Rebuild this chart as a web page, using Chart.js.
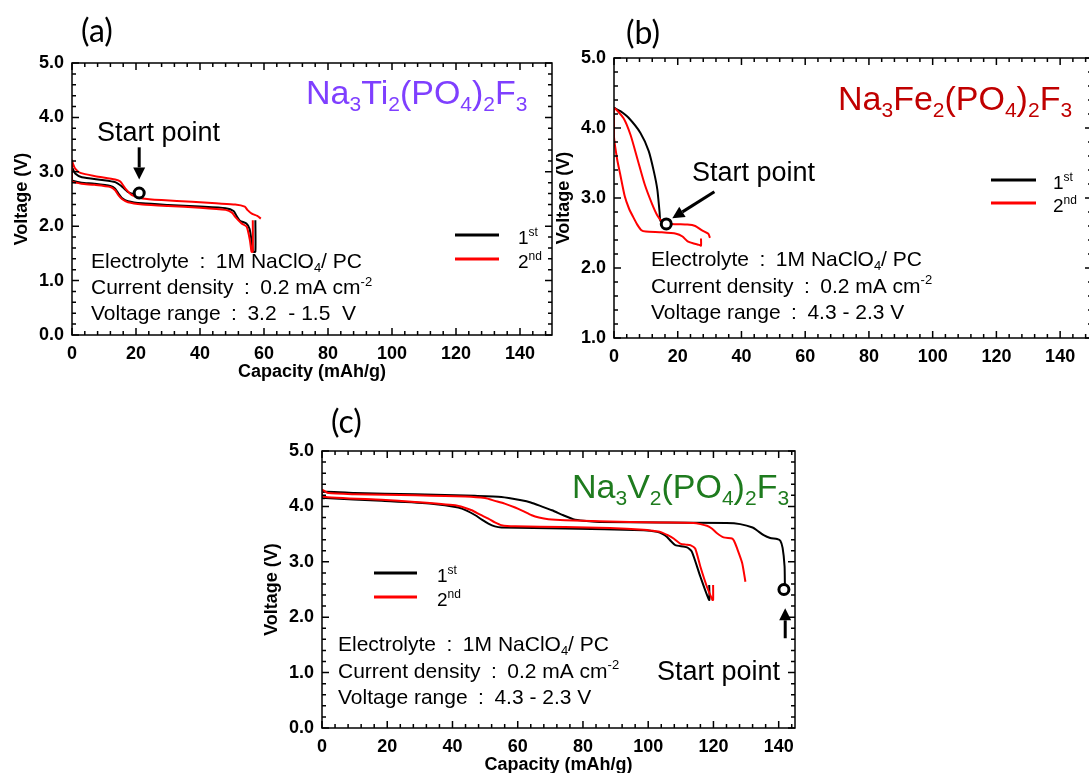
<!DOCTYPE html>
<html>
<head>
<meta charset="utf-8">
<title>Courbes de charge / décharge</title>
<script src="https://cdn.jsdelivr.net/npm/chart.js@4.4.1/dist/chart.umd.min.js"></script>
<style>
  html, body { margin: 0; padding: 0; background: #fff; overflow: hidden; }
  #page { position: relative; width: 1089px; height: 773px; overflow: hidden; background: #fff; }
  #page canvas { position: absolute; left: 0; top: 0; }
</style>
</head>
<body>
<div id="page">
  <canvas id="chartTi" width="1100" height="790"></canvas>
  <canvas id="chartFe" width="1100" height="790"></canvas>
  <canvas id="chartV" width="1100" height="790"></canvas>
</div>
<script>
/*
  Trois courbes tension / capacité (1er et 2e cycle) : (a) Ti, (b) Fe, (c) V
*/

// (a) Na3Ti2(PO4)2F3 : capacité (mAh/g) / tension (V)
var tiCap1  = [21, 19.5, 17.7, 16.5, 15.4, 13.5, 9.4, 3.1, 1, 0.2, 0, 0, 0.5, 3, 7, 12, 13.5, 14.5, 15.6, 17.5, 22, 30, 40, 48, 50.5, 51.5, 52.5, 54.5, 55.5, 56.2, 56.6, 57.3, 57.3];
var tiVolt1 = [2.59, 2.59, 2.62, 2.68, 2.74, 2.81, 2.85, 2.9, 2.97, 3.06, 3.08, 2.85, 2.83, 2.8, 2.78, 2.74, 2.69, 2.6, 2.52, 2.46, 2.42, 2.39, 2.36, 2.33, 2.28, 2.18, 2.1, 2.05, 1.95, 1.7, 1.53, 1.53, 2.11];
var tiCap2  = [59, 57.9, 56.2, 54.8, 54, 51, 45, 37.5, 28, 22, 18.75, 16.7, 15.1, 13.5, 7.3, 2.6, 1, 0.3, 0, 0, 0.5, 3, 7, 12, 13.5, 14.5, 15.6, 17.5, 22, 30, 40, 48, 50, 51, 53, 54.6, 55.6, 56.1, 56.5, 56.5];
var tiVolt2 = [2.14, 2.19, 2.23, 2.3, 2.36, 2.4, 2.42, 2.45, 2.48, 2.51, 2.57, 2.69, 2.82, 2.86, 2.92, 2.98, 3.06, 3.15, 3.21, 2.82, 2.81, 2.78, 2.76, 2.72, 2.66, 2.57, 2.5, 2.44, 2.4, 2.37, 2.34, 2.3, 2.25, 2.17, 2.05, 1.99, 1.74, 1.53, 1.53, 2.11];
var tiStart = [21, 2.61];

// (b) Na3Fe2(PO4)2F3
var feCap1  = [16.4, 14.6, 14.3, 13.6, 12.5, 10.9, 8.3, 4.5, 2, 0];
var feVolt1 = [2.64, 2.67, 2.8, 3.12, 3.38, 3.67, 3.93, 4.15, 4.24, 4.29];
var feCap2  = [30.1, 29.6, 27.5, 25.5, 23, 18, 15, 13.6, 11.9, 9.6, 7.4, 5.2, 3, 0, 0, 1, 1.9, 3.4, 4.7, 6, 7.3, 8.6, 10, 15, 19.5, 21.5, 23.1, 25, 26.7, 27.3, 27.3];
var feVolt2 = [2.43, 2.49, 2.54, 2.6, 2.62, 2.63, 2.67, 2.75, 2.92, 3.2, 3.55, 3.9, 4.14, 4.28, 3.87, 3.55, 3.35, 3.02, 2.85, 2.73, 2.62, 2.54, 2.52, 2.51, 2.49, 2.45, 2.38, 2.35, 2.33, 2.32, 2.42];
var feStart = [16.4, 2.63];

// (c) Na3V2(PO4)2F3
var vCap1  = [141.9, 141.8, 141.2, 140.5, 139.5, 137.4, 135.4, 133.5, 132, 128.2, 124, 104, 85, 80.2, 77, 74, 70.5, 67.3, 64, 61.1, 55, 46.9, 28.5, 10, 0, 0, 1, 18.3, 33.6, 41.8, 44.5, 47, 49, 51, 53, 55, 74.5, 98.6, 102.7, 104.5, 105.7, 107, 108.3, 111.9, 113.4, 116, 118.7, 118.7];
var vVolt1 = [2.58, 2.92, 3.25, 3.38, 3.41, 3.43, 3.48, 3.56, 3.62, 3.68, 3.7, 3.71, 3.72, 3.74, 3.77, 3.84, 3.93, 4.0, 4.07, 4.11, 4.17, 4.19, 4.22, 4.24, 4.26, 4.15, 4.15, 4.1, 4.05, 3.98, 3.92, 3.84, 3.76, 3.69, 3.64, 3.62, 3.6, 3.57, 3.54, 3.5, 3.45, 3.37, 3.3, 3.26, 3.18, 2.73, 2.31, 2.58];
var vCap2  = [129.8, 128.8, 127.2, 126.3, 125.7, 123.1, 121, 119.5, 118, 116, 113.9, 103.7, 85, 74.5, 69.4, 66.5, 64.3, 61.5, 59.2, 56, 53, 50, 43.9, 28.5, 10, 2, 0, 0, 18.3, 28.5, 40.8, 43.5, 45.9, 48.5, 51, 53, 55, 59.2, 74.5, 88.3, 98.6, 101.5, 103.7, 106, 107.8, 109.8, 111.5, 112.9, 114.4, 116, 118, 119.7, 119.9, 119.9];
var vVolt2 = [2.64, 2.98, 3.25, 3.38, 3.42, 3.44, 3.52, 3.6, 3.65, 3.68, 3.7, 3.71, 3.73, 3.75, 3.77, 3.8, 3.84, 3.92, 3.98, 4.05, 4.1, 4.15, 4.18, 4.2, 4.22, 4.24, 4.3, 4.18, 4.12, 4.08, 4.02, 3.98, 3.93, 3.85, 3.78, 3.71, 3.66, 3.64, 3.63, 3.61, 3.58, 3.56, 3.54, 3.48, 3.42, 3.33, 3.31, 3.3, 3.24, 2.91, 2.55, 2.31, 2.31, 2.58];
var vStart = [141.6, 2.5];

// graduations
var capTicks = [0, 20, 40, 60, 80, 100, 120, 140];

// textes communs
var SEP = '\u2002:\u2002';
var noteElectrolyte = 'Electrolyte' + SEP + '1M NaClO_4/ PC';
var noteCurrent = 'Current density' + SEP + '0.2 mA cm^{-2}';
var legendLabels = ['1^{st}', '2^{nd}'];

var FONT = "'Liberation Sans', Arial, sans-serif";
Chart.defaults.font.family = FONT;
Chart.defaults.color = '#000';

function pts(caps, volts) {
    return caps.map(function (c, i) { return { x: c, y: volts[i] }; });
}

// texte avec indices (_x) et exposants (^{..})
function drawRich(ctx, str, x, y, size, color, family) {
    var parts = [];
    for (var i = 0; i < str.length; i++) {
        var c = str[i];
        if (c === '_') { parts.push({ t: str[i + 1], k: 'sub' }); i++; }
        else if (c === '^' && str[i + 1] === '{') {
            var j = str.indexOf('}', i);
            parts.push({ t: str.slice(i + 2, j), k: 'sup' });
            i = j;
        }
        else if (parts.length && parts[parts.length - 1].k === 'n') parts[parts.length - 1].t += c;
        else parts.push({ t: c, k: 'n' });
    }
    ctx.fillStyle = color;
    ctx.textAlign = 'left';
    ctx.textBaseline = 'alphabetic';
    parts.forEach(function (p) {
        var s = p.k === 'n' ? size : Math.round(size * 0.62);
        var dy = p.k === 'sub' ? size * 0.2 : (p.k === 'sup' ? -size * 0.4 : 0);
        ctx.font = s + 'px ' + (family || FONT);
        ctx.fillText(p.t, x, y + dy);
        x += ctx.measureText(p.t).width;
    });
}

function drawArrow(ctx, x1, y1, x2, y2) {
    var a = Math.atan2(y2 - y1, x2 - x1), L = 12, W = 6;
    var bx = x2 - L * Math.cos(a), by = y2 - L * Math.sin(a);
    ctx.strokeStyle = '#000';
    ctx.lineWidth = 3;
    ctx.beginPath(); ctx.moveTo(x1, y1); ctx.lineTo(bx, by); ctx.stroke();
    ctx.fillStyle = '#000';
    ctx.beginPath();
    ctx.moveTo(x2, y2);
    ctx.lineTo(bx - W * Math.sin(a), by + W * Math.cos(a));
    ctx.lineTo(bx + W * Math.sin(a), by - W * Math.cos(a));
    ctx.closePath(); ctx.fill();
}

// cadre, graduations internes, annotations
var decor = {
    id: 'decor',
    afterDraw: function (chart, args, o) {
        var ctx = chart.ctx, ca = chart.chartArea, xs = chart.scales.x, ys = chart.scales.y;
        var i, v, p, len;
        ctx.save();
        ctx.strokeStyle = '#000';
        ctx.lineWidth = 1.5;
        ctx.strokeRect(ca.left, ca.top, ca.right - ca.left, ca.bottom - ca.top);
        ctx.beginPath();
        for (i = 0; ; i++) {
            v = xs.min + i * 4;
            if (v > xs.max + 1e-6) break;
            p = xs.getPixelForValue(v);
            len = i % 5 === 0 ? 7 : 4;
            ctx.moveTo(p, ca.bottom); ctx.lineTo(p, ca.bottom - len);
            ctx.moveTo(p, ca.top); ctx.lineTo(p, ca.top + len);
        }
        for (i = 0; ; i++) {
            v = ys.min + i * 0.2;
            if (v > ys.max + 1e-6) break;
            p = ys.getPixelForValue(v);
            len = i % 5 === 0 ? 7 : 4;
            ctx.moveTo(ca.left, p); ctx.lineTo(ca.left + len, p);
            ctx.moveTo(ca.right, p); ctx.lineTo(ca.right - len, p);
        }
        ctx.stroke();

        // (a) (b) (c)
        ctx.font = '32px Lato, ' + FONT;
        ctx.fillStyle = '#000';
        ctx.textAlign = 'left';
        ctx.textBaseline = 'alphabetic';
        ctx.fillText(o.tag.text, o.tag.x, o.tag.y);

        // formule
        drawRich(ctx, o.formula.text, o.formula.x, o.formula.y, 34, o.formula.color);

        // Start point + flèche
        drawRich(ctx, 'Start point', o.start.x, o.start.y, 27, '#000');
        drawArrow(ctx, xs.getPixelForValue(o.arrow[0]), ys.getPixelForValue(o.arrow[1]),
                  xs.getPixelForValue(o.arrow[2]), ys.getPixelForValue(o.arrow[3]));

        // conditions
        var lines = [noteElectrolyte, noteCurrent, o.notes.range];
        lines.forEach(function (t, k) {
            drawRich(ctx, t, o.notes.x, o.notes.y + k * o.notes.gap, 21, '#000');
        });

        // légende
        var lg = o.legend;
        [['#000', 0], ['#ff0000', 1]].forEach(function (e) {
            var yy = lg.y + e[1] * lg.gap;
            ctx.strokeStyle = e[0];
            ctx.lineWidth = 3;
            ctx.beginPath(); ctx.moveTo(lg.x1, yy); ctx.lineTo(lg.x2, yy); ctx.stroke();
            drawRich(ctx, legendLabels[e[1]], lg.tx, yy + 9, 19, '#000');
        });
        ctx.restore();
    }
};

function makeChart(id, area, yMin, xMax, xTitle, black, red, start, deco) {
    return new Chart(document.getElementById(id), {
        type: 'line',
        data: {
            datasets: [
                { data: [{ x: start[0], y: start[1] }], showLine: false, pointRadius: 5, pointBorderWidth: 3,
                  pointBorderColor: '#000', pointBackgroundColor: '#fff' },
                { data: pts(red[0], red[1]), borderColor: '#ff0000', borderWidth: 2, pointRadius: 0, tension: 0.2, fill: false },
                { data: pts(black[0], black[1]), borderColor: '#000', borderWidth: 2, pointRadius: 0, tension: 0.2, fill: false }
            ]
        },
        options: {
            responsive: false,
            animation: false,
            devicePixelRatio: 1,
            events: [],
            layout: { padding: { left: area[0] - 65, top: area[1], right: 1100 - area[2], bottom: 790 - area[3] - 52 } },
            plugins: { legend: { display: false }, tooltip: { enabled: false }, decor: deco },
            scales: {
                x: {
                    type: 'linear', min: 0, max: xMax,
                    grid: { display: false, drawTicks: false }, border: { display: false },
                    ticks: { stepSize: 20, padding: 8, maxRotation: 0, autoSkip: false, font: { size: 18, weight: 'bold' } },
                    title: { display: xTitle, text: 'Capacity (mAh/g)', font: { size: 18, weight: 'bold' }, padding: { top: 0, bottom: 4 } },
                    afterBuildTicks: function (s) { s.ticks = capTicks.map(function (v) { return { value: v }; }); },
                    afterFit: function (s) { s.height = 52; }
                },
                y: {
                    type: 'linear', min: yMin, max: 5,
                    grid: { display: false, drawTicks: false }, border: { display: false },
                    ticks: { stepSize: 1, padding: 8, font: { size: 18, weight: 'bold' }, callback: function (v) { return v.toFixed(1); } },
                    title: { display: true, text: 'Voltage (V)', font: { size: 18, weight: 'bold' }, padding: { top: 4, bottom: 0 } },
                    afterFit: function (s) { s.width = 65; }
                }
            }
        },
        plugins: [decor]
    });
}

makeChart('chartTi', [72, 63, 552, 335], 0, 150, true, [tiCap1, tiVolt1], [tiCap2, tiVolt2], tiStart, {
    tag: { text: '(a)', x: 81, y: 42 },
    formula: { text: 'Na_3Ti_2(PO_4)_2F_3', x: 306, y: 104, color: '#7f3fff' },
    start: { x: 97, y: 141 },
    arrow: [21, 3.45, 21, 2.86],
    notes: { x: 91, y: 268, gap: 26, range: 'Voltage range' + SEP + '3.2  - 1.5  V' },
    legend: { x1: 455, x2: 499, y: 235, gap: 24, tx: 518 }
});

makeChart('chartFe', [614, 58, 1097, 338], 1, 150, false, [feCap1, feVolt1], [feCap2, feVolt2], feStart, {
    tag: { text: '(b)', x: 626, y: 44 },
    formula: { text: 'Na_3Fe_2(PO_4)_2F_3', x: 838, y: 110, color: '#c00000' },
    start: { x: 692, y: 181 },
    arrow: [31.5, 3.09, 18.3, 2.71],
    notes: { x: 651, y: 266, gap: 26.5, range: 'Voltage range' + SEP + '4.3 - 2.3 V' },
    legend: { x1: 991, x2: 1036, y: 180, gap: 23, tx: 1053 }
});

makeChart('chartV', [322, 451, 795, 728], 0, 145, true, [vCap1, vVolt1], [vCap2, vVolt2], vStart, {
    tag: { text: '(c)', x: 331, y: 433 },
    formula: { text: 'Na_3V_2(PO_4)_2F_3', x: 572, y: 498, color: '#1e7b1e' },
    start: { x: 657, y: 680 },
    arrow: [142, 1.62, 142, 2.16],
    notes: { x: 338, y: 651, gap: 26.5, range: 'Voltage range' + SEP + '4.3 - 2.3 V' },
    legend: { x1: 374, x2: 417, y: 573, gap: 24, tx: 437 }
});
</script>
</body>
</html>
